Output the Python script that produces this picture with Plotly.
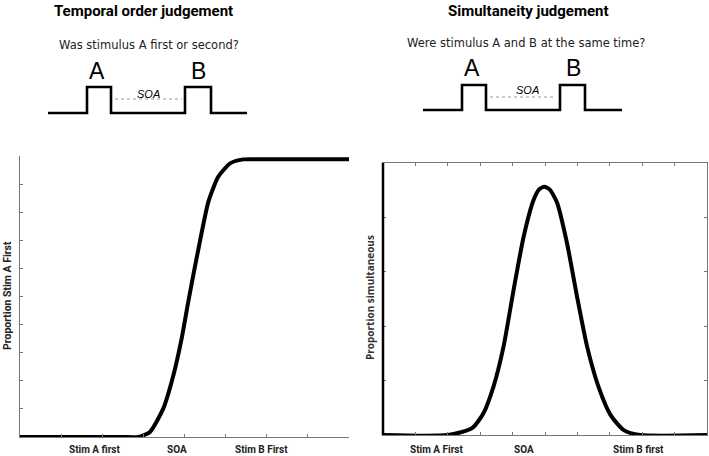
import plotly.graph_objects as go

W, H = 709, 456

# ---- data: temporal order judgement (psychometric curve) ----
toj_x = [0, 2.5, 2.87, 3.16, 3.48, 3.73, 3.93, 4.09, 4.20, 4.38, 4.58, 4.82, 5.11, 5.43, 6.0, 8]
toj_y = [0, 0, 0, 0.018, 0.10, 0.22, 0.35, 0.48, 0.565, 0.70, 0.837, 0.926, 0.974, 0.988, 0.988, 0.988]
toj_tick_labels = ["Stim A first", "SOA", "Stim B First"]
toj_label_pos = [1.8, 3.82, 5.88]

# ---- data: simultaneity judgement (bell curve) ----
sj_x = [0, 2.0, 2.75, 3.10, 3.41, 3.72, 4.03, 4.34, 4.65, 4.82, 4.98, 5.15, 5.37, 5.68, 5.99, 6.30, 6.65, 7.02, 7.43, 7.94, 10]
sj_y = [0, 0, 0.025, 0.080, 0.178, 0.325, 0.533, 0.729, 0.865, 0.903, 0.913, 0.902, 0.855, 0.705, 0.508, 0.325, 0.178, 0.074, 0.018, 0, 0]
sj_tick_labels = ["Stim A First", "SOA", "Stim B first"]
sj_label_pos = [1.65, 4.36, 7.89]

# ---- schematic stimulus diagrams (pixel space of the page) ----
toj_diag_x = [48, 87, 87, 111, 111, 185, 185, 211, 211, 247]
toj_diag_y = [113, 113, 87, 87, 113, 113, 87, 87, 113, 113]
sj_diag_x = [423, 462, 462, 486, 486, 560, 560, 585, 585, 622]
sj_diag_y = [110, 110, 85, 85, 110, 110, 85, 85, 110, 110]
toj_soa_x = [115, 182]
toj_soa_y = [99, 99]
sj_soa_x = [490, 555]
sj_soa_y = [97, 97]

fig = go.Figure()

fig.add_trace(go.Scatter(x=toj_x, y=toj_y, mode="lines", xaxis="x", yaxis="y",
                         line=dict(color="black", width=4, shape="spline", smoothing=0.6),
                         hoverinfo="skip", showlegend=False))
fig.add_trace(go.Scatter(x=sj_x, y=sj_y, mode="lines", xaxis="x2", yaxis="y2",
                         line=dict(color="black", width=4, shape="spline", smoothing=0.6),
                         hoverinfo="skip", showlegend=False))

for dx, dy in [(toj_diag_x, toj_diag_y), (sj_diag_x, sj_diag_y)]:
    fig.add_trace(go.Scatter(x=dx, y=dy, mode="lines", xaxis="x3", yaxis="y3",
                             line=dict(color="black", width=2.6),
                             hoverinfo="skip", showlegend=False))
for sx, sy in [(toj_soa_x, toj_soa_y), (sj_soa_x, sj_soa_y)]:
    fig.add_trace(go.Scatter(x=sx, y=sy, mode="lines", xaxis="x3", yaxis="y3",
                             line=dict(color="#9a9a9a", width=1, dash="dot"),
                             hoverinfo="skip", showlegend=False))

axis_common = dict(showgrid=False, zeroline=False, ticks="inside", ticklen=3,
                   tickcolor="#777", tickwidth=1, showticklabels=False, fixedrange=True)

fig.update_layout(
    width=W, height=H,
    margin=dict(l=0, r=0, t=0, b=0),
    paper_bgcolor="white", plot_bgcolor="rgba(0,0,0,0)",
    xaxis=dict(domain=[20 / W, 349 / W], range=[0, 8], tickvals=list(range(0, 9)),
               showline=True, linecolor="#777", linewidth=1, anchor="y", **axis_common),
    yaxis=dict(domain=[(H - 437) / H, (H - 156) / H], range=[0, 1],
               tickvals=[i / 10 for i in range(11)],
               showline=True, linecolor="#777", linewidth=1, anchor="x", **axis_common),
    xaxis2=dict(domain=[383 / W, 707 / W], range=[0, 10], tickvals=list(range(0, 11)),
                showline=True, linecolor="#777", linewidth=1, mirror="ticks", anchor="y2",
                **axis_common),
    yaxis2=dict(domain=[(H - 435) / H, (H - 163) / H], range=[0, 1],
                tickvals=[0, 0.2, 0.4, 0.6, 0.8, 1.0],
                showline=True, linecolor="#777", linewidth=1, mirror="ticks", anchor="x2",
                **axis_common),
    xaxis3=dict(domain=[0, 1], range=[0, W], visible=False, fixedrange=True, anchor="y3"),
    yaxis3=dict(domain=[0, 1], range=[H, 0], visible=False, fixedrange=True, anchor="x3"),
)

# black left border of right panel
fig.add_shape(type="line", xref="x2 domain", yref="y2 domain", x0=0, x1=0, y0=0, y1=1,
              line=dict(color="black", width=2.5))

ann = []
lab_font = dict(family="Roboto", size=10, color="#222")
for t, p in zip(toj_tick_labels, toj_label_pos):
    ann.append(dict(x=p, y=449, xref="x", yref="y3", text="<b>%s</b>" % t,
                    showarrow=False, font=lab_font, xanchor="center", yanchor="middle"))
for t, p in zip(sj_tick_labels, sj_label_pos):
    ann.append(dict(x=p, y=449, xref="x2", yref="y3", text="<b>%s</b>" % t,
                    showarrow=False, font=lab_font, xanchor="center", yanchor="middle"))

SANS = "DejaVu Sans, sans-serif"

def txt(x, y, text, size, family=SANS, angle=0, color="black"):
    f = dict(family=family, size=size, color=color)
    ann.append(dict(x=x, y=y, xref="x3", yref="y3", text=text, showarrow=False,
                    textangle=angle, xanchor="center", yanchor="middle", font=f))

txt(143, 11, "<b>Temporal order judgement</b>", 15, family="Roboto")
txt(528, 11, "<b>Simultaneity judgement</b>", 15, family="Roboto")
txt(149, 45, "Was stimulus A first or second?", 11.5, color="#222")
txt(526, 43, "Were stimulus A and B at the same time?", 11.5, color="#222")
txt(97, 71, "A", 23, family="Liberation Sans")
txt(198, 71, "B", 23, family="Liberation Sans")
txt(472, 68, "A", 23, family="Liberation Sans")
txt(573, 68, "B", 23, family="Liberation Sans")
txt(148, 94, "<i>SOA</i>", 11, family="Liberation Sans")
txt(527, 90, "<i>SOA</i>", 11, family="Liberation Sans")
txt(7, 296, "<b>Proportion Stim A First</b>", 10.5, family="Roboto", angle=-90, color="#222")
txt(370, 298, "<b>Proportion simultaneous</b>", 10, family="Open Sans", angle=-90, color="#333")

fig.update_layout(annotations=ann)

fig.write_html("out.html", config={"displayModeBar": False},
               post_script="document.body.style.margin='0';")
